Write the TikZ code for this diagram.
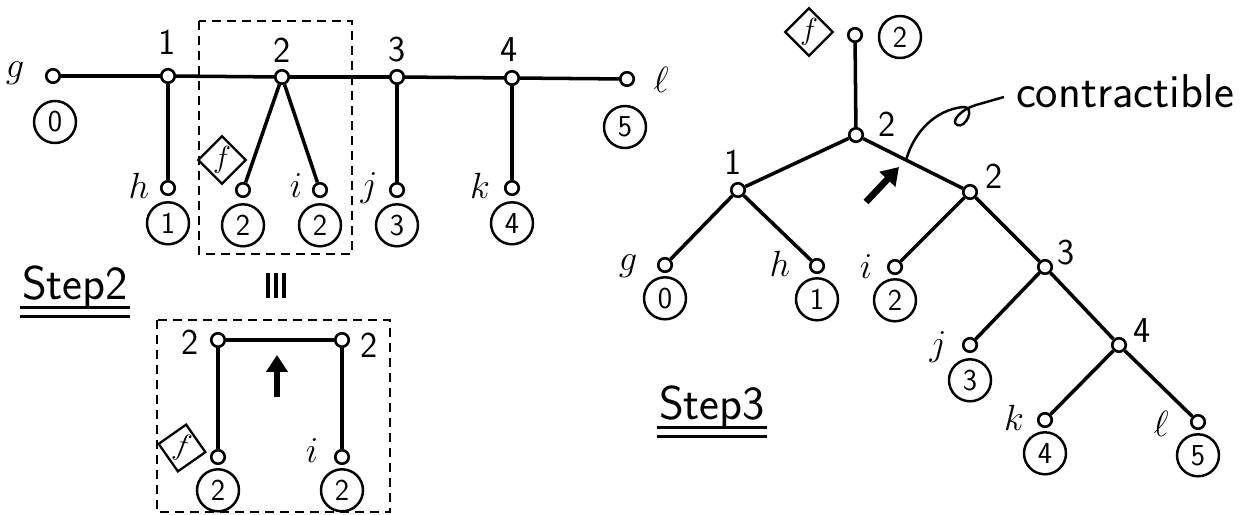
\documentclass[tikz,border=0pt]{standalone}
\usepackage{tikz}
\usetikzlibrary{shapes,arrows.meta,positioning}
\tikzstyle{vtx}=[circle, draw=black, line width=1.5pt, fill=white, inner sep=0pt, minimum size=2.7mm]
\tikzstyle{cnum}=[circle, draw=black, line width=1.4pt, inner sep=0pt, minimum size=8.4mm, font=\sffamily\LARGE]
\tikzstyle{num}=[inner sep=1pt, font=\sffamily\huge]
\tikzstyle{var}=[inner sep=1pt, font=\huge]
\tikzstyle{fdia}=[diamond, draw=black, line width=1.3pt, inner sep=0.5pt, minimum width=7mm, minimum height=8.4mm, font=\LARGE]
\tikzstyle{ln}=[line width=2pt]
\tikzstyle{cut}=[line width=1.4pt, dash pattern=on 1.8mm off 1.2mm]
\tikzstyle{fatarr}=[line width=3.8pt, -{Triangle[length=3.4mm,width=4.2mm]}]
\tikzstyle{stp}=[inner sep=1pt, font=\sffamily\fontsize{27}{30}\selectfont]
\tikzstyle{dul}=[line width=2pt]

\begin{document}
\begin{tikzpicture}[x=0.2mm, y=0.2mm]
\useasboundingbox (0,0) rectangle (1240,-515);

% Step 2: the path with a branch at 2
\node[vtx] (g) at (53,-76) {};
\node[vtx] (a1) at (168,-76) {};
\node[vtx] (a2) at (282,-77) {};
\node[vtx] (a3) at (397,-77) {};
\node[vtx] (a4) at (512,-78) {};
\node[vtx] (l) at (627,-79) {};
\node[vtx] (h) at (168,-188) {};
\node[vtx] (f) at (243,-190) {};
\node[vtx] (i) at (320,-190) {};
\node[vtx] (j) at (397,-190) {};
\node[vtx] (k) at (512,-188) {};
\draw[ln] (g) -- (a1) -- (a2) -- (a3) -- (a4) -- (l);
\draw[ln] (a1) -- (h);
\draw[ln] (a2) -- (f);
\draw[ln] (a2) -- (i);
\draw[ln] (a3) -- (j);
\draw[ln] (a4) -- (k);
\node[num] (t1) at (167,-42) {1};
\node[num] (t2) at (282,-50) {2};
\node[num] (t3) at (397,-50) {3};
\node[num] (t4) at (509,-50) {4};
\node[var] (tg) at (15,-73) {$g$};
\node[var] (tl) at (661,-80) {$\ell$};
\node[var] (th) at (139,-186) {$h$};
\node[var] (ti) at (296,-186) {$i$};
\node[var] (tj) at (369,-188) {$j$};
\node[var] (tk) at (480,-186) {$k$};
\node[fdia] (tf) at (222,-160) {$f$};
\node[cnum] (cg) at (55,-122) {0};
\node[cnum] (cl) at (625,-127) {5};
\node[cnum, below=1mm of h] (ch) {1};
\node[cnum, below=1mm of f] (cf) {2};
\node[cnum, below=1mm of i] (ci) {2};
\node[cnum, below=1mm of j] (cj) {3};
\node[cnum, below=1mm of k] (ck) {4};
\draw[cut] (199,-21) rectangle (352,-254);

\node[stp] (st2) at (75,-287) {Step2};
\draw[dul] ([yshift=0.6mm]st2.south west) -- ([yshift=0.6mm]st2.south east);
\draw[dul] ([yshift=-1.2mm]st2.south west) -- ([yshift=-1.2mm]st2.south east);
% the sign between the two pictures
\coordinate (eqv) at (276,-286);
\foreach \dx in {-8,0,8}
  \draw[line width=2.6pt] ([xshift=\dx*0.2mm, yshift=2.5mm]eqv) -- ([xshift=\dx*0.2mm, yshift=-2.5mm]eqv);

% the branch at 2, split in two
\node[vtx] (b1) at (218,-340) {};
\node[vtx] (b2) at (342,-340) {};
\node[vtx] (bf) at (218,-457) {};
\node[vtx] (bi) at (342,-457) {};
\draw[ln] (b1) -- (b2);
\draw[ln] (b1) -- (bf);
\draw[ln] (b2) -- (bi);
\node[num] (tb1) at (190,-342) {2};
\node[num] (tb2) at (369,-345) {2};
\node[fdia, rotate=-10] (tbf) at (182,-448) {$f$};
\node[var] (tbi) at (312,-451) {$i$};
\node[cnum, below=0.6mm of bf] (cbf) {2};
\node[cnum, below=0.6mm of bi] (cbi) {2};
\coordinate (ua) at (277,-397);
\coordinate (ub) at (277,-355);
\draw[fatarr] (ua) -- (ub);
\draw[cut] (157,-320) rectangle (390,-512);

% Step 3: the tree
\node[vtx] (rt) at (855,-35) {};
\node[vtx] (r) at (856,-135) {};
\node[vtx] (n1) at (738,-190) {};
\node[vtx] (r2) at (970,-192) {};
\node[vtx] (n3) at (1045,-267) {};
\node[vtx] (n4) at (1119,-345) {};
\node[vtx] (lg) at (665,-265) {};
\node[vtx] (lh) at (817,-266) {};
\node[vtx] (li) at (895,-267) {};
\node[vtx] (lj) at (970,-345) {};
\node[vtx] (lk) at (1045,-420) {};
\node[vtx] (ll) at (1198,-422) {};
\draw[ln] (rt) -- (r);
\draw[ln] (r) -- (n1);
\draw[ln] (r) -- coordinate[pos=0.43] (cp) (r2);
\draw[ln] (n1) -- (lg);
\draw[ln] (n1) -- (lh);
\draw[ln] (r2) -- (li);
\draw[ln] (r2) -- (n3);
\draw[ln] (n3) -- (lj);
\draw[ln] (n3) -- (n4);
\draw[ln] (n4) -- (lk);
\draw[ln] (n4) -- (ll);
\node[fdia] (trf) at (809,-32) {$f$};
\node[cnum] (crt) at (900,-37) {2};
\node[num] (tr) at (887,-124) {2};
\node[num] (tn1) at (733,-162) {1};
\node[num] (tr2) at (994,-176) {2};
\node[num] (tn3) at (1066,-253) {3};
\node[num] (tn4) at (1142,-331) {4};
\node[var] (tlg) at (628,-266) {$g$};
\node[var] (tlh) at (780,-264) {$h$};
\node[var] (tli) at (866,-267) {$i$};
\node[var] (tlj) at (938,-347) {$j$};
\node[var] (tlk) at (1014,-418) {$k$};
\node[var] (tll) at (1161,-424) {$\ell$};
\node[cnum, below=0.6mm of lg] (clg) {0};
\node[cnum, below=0.6mm of lh] (clh) {1};
\node[cnum, below=0.6mm of li] (cli) {2};
\node[cnum, below=1mm of lj] (clj) {3};
\node[cnum, below=0.6mm of lk] (clk) {4};
\node[cnum, below=0.6mm of ll] (cll) {5};
\coordinate (va) at (866,-202);
\coordinate (vb) at (899,-167);
\draw[fatarr] (va) -- (vb);

% the contractible edge
\node[stp, anchor=west] (ctr) at (1014,-91) {contractible};
\draw[line width=1.4pt] (cp) .. controls (914,-132) and (935,-110) .. (963,-107)
  .. controls (976,-106) and (966,-129) .. (957,-125)
  .. controls (950,-121) and (962,-109) .. (976,-105)
  -- ([shift={(-2mm,-1.2mm)}]ctr.west);
\node[stp] (st3) at (712,-407) {Step3};
\draw[dul] ([yshift=0.6mm]st3.south west) -- ([yshift=0.6mm]st3.south east);
\draw[dul] ([yshift=-1.2mm]st3.south west) -- ([yshift=-1.2mm]st3.south east);
\end{tikzpicture}
\end{document}
